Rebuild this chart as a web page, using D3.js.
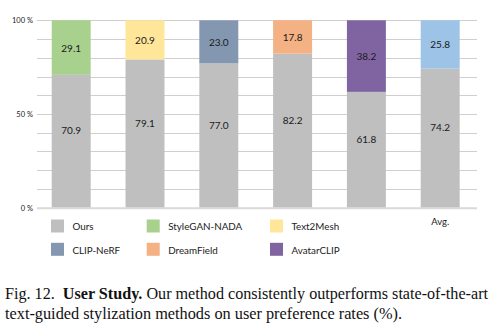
<!DOCTYPE html>
<html>
<head>
<meta charset="utf-8">
<script src="https://cdn.jsdelivr.net/npm/d3@7"></script>
<style>
  html, body { margin: 0; padding: 0; background: #fff; }
  svg { display: block; }
</style>
</head>
<body>
<svg id="chart" width="499" height="330"></svg>
<script>
// User preference rates (%): Ours vs. each baseline, plus the average.
const methods = ["StyleGAN-NADA", "Text2Mesh", "CLIP-NeRF", "DreamField", "AvatarCLIP", "Avg."];
const oursValues = [70.9, 79.1, 77.0, 82.2, 61.8, 74.2];
const otherValues = [29.1, 20.9, 23.0, 17.8, 38.2, 25.8];
const otherColors = ["#a9d18e", "#ffe699", "#8497b0", "#f4b183", "#8064a2", "#9dc3e6"];
const oursColor = "#bfbfbf";
const yTicks = [0, 10, 20, 30, 40, 50, 60, 70, 80, 90, 100];
const yTickLabels = { 0: "0 %", 50: "50 %", 100: "100 %" };
const legendNames = ["Ours", "StyleGAN-NADA", "Text2Mesh", "CLIP-NeRF", "DreamField", "AvatarCLIP"];
const legendColors = [oursColor, "#a9d18e", "#ffe699", "#8497b0", "#f4b183", "#8064a2"];

const svg = d3.select("#chart");
const chartFont = "Lato, 'Open Sans', sans-serif";

const x = d3.scaleBand().domain(methods).range([34.3, 477.1]).paddingInner(0.472).paddingOuter(0.236);
const y = d3.scaleLinear().domain([0, 100]).range([207.7, 20.3]);

// horizontal gridlines
const grid = svg.append("g");
grid.selectAll("line").data(yTicks.filter(t => t > 0)).join("line")
  .attr("x1", 37).attr("x2", 477)
  .attr("y1", d => Math.round(y(d)) + 0.5).attr("y2", d => Math.round(y(d)) + 0.5)
  .attr("stroke", "#cfcfcf").attr("stroke-width", 1);

// y axis labels
const yAxis = d3.axisLeft(y).tickValues([0, 50, 100]).tickSize(0).tickPadding(0)
  .tickFormat(d => yTickLabels[d]);
const yg = svg.append("g").attr("transform", "translate(33,0)").call(yAxis);
yg.select(".domain").remove();
yg.selectAll("text").attr("font-family", chartFont).attr("font-size", 7.5).attr("fill", "#222");

// stacked bars
const stack = methods.map((m, i) => ({ m, ours: oursValues[i], other: otherValues[i], color: otherColors[i] }));
const bars = svg.append("g");
bars.selectAll("rect.ours").data(stack).join("rect").attr("class", "ours")
  .attr("x", d => x(d.m)).attr("width", x.bandwidth())
  .attr("y", d => y(d.ours)).attr("height", d => y(0) - y(d.ours))
  .attr("fill", oursColor);
bars.selectAll("rect.other").data(stack).join("rect").attr("class", "other")
  .attr("x", d => x(d.m)).attr("width", x.bandwidth())
  .attr("y", d => y(d.ours + d.other)).attr("height", d => y(d.ours) - y(d.ours + d.other))
  .attr("fill", d => d.color);

// baseline
svg.append("line").attr("x1", 37).attr("x2", 477).attr("y1", y(0) + 0.5).attr("y2", y(0) + 0.5)
  .attr("stroke", "#d9d9d9").attr("stroke-width", 2);

// value labels
const labels = svg.append("g").attr("font-family", chartFont).attr("font-size", 10)
  .attr("fill", "#1a1a1a").attr("text-anchor", "middle").attr("dominant-baseline", "central");
labels.selectAll("text.o").data(stack).join("text").attr("class", "o")
  .attr("x", d => x(d.m) + x.bandwidth() / 2)
  .attr("y", d => (y(0) + y(d.ours)) / 2 - 11)
  .text(d => d.ours.toFixed(1));
labels.selectAll("text.t").data(stack).join("text").attr("class", "t")
  .attr("x", d => x(d.m) + x.bandwidth() / 2)
  .attr("y", d => (y(d.ours) + y(d.ours + d.other)) / 2)
  .text(d => d.other.toFixed(1));

// category axis: only the average column is named
const xAxis = d3.axisBottom(x).tickSize(0).tickPadding(0).tickFormat(d => d === "Avg." ? d : "");
const xg = svg.append("g").attr("transform", "translate(0,218)").call(xAxis);
xg.select(".domain").remove();
xg.selectAll("text").attr("font-family", chartFont).attr("font-size", 9.5).attr("fill", "#222");

// legend
const legendX = [51, 146.7, 270];
const legendY = [219.5, 242.8];
const lg = svg.append("g");
legendNames.forEach((name, i) => {
  const cx = legendX[i % 3], cy = legendY[Math.floor(i / 3)];
  lg.append("rect").attr("x", cx).attr("y", cy).attr("width", 13).attr("height", 13)
    .attr("fill", legendColors[i]);
  lg.append("text").attr("x", cx + 21.5).attr("y", cy + 6.8)
    .attr("dominant-baseline", "central")
    .attr("font-family", chartFont).attr("font-size", 9.8).attr("fill", "#222")
    .text(name);
});

// caption
const cap = svg.append("g").attr("font-family", "'Liberation Serif', 'Times New Roman', serif")
  .attr("font-size", 16).attr("fill", "#111");
const l1 = cap.append("text").attr("x", 5).attr("y", 299)
  .attr("textLength", 483).attr("lengthAdjust", "spacingAndGlyphs");
l1.append("tspan").text("Fig. 12.\u00a0\u00a0");
l1.append("tspan").attr("font-weight", "bold").text("User Study.");
l1.append("tspan").text(" Our method consistently outperforms state-of-the-art");
cap.append("text").attr("x", 5).attr("y", 319.3)
  .attr("textLength", 397).attr("lengthAdjust", "spacingAndGlyphs")
  .text("text-guided stylization methods on user preference rates (%).");
</script>
</body>
</html>
